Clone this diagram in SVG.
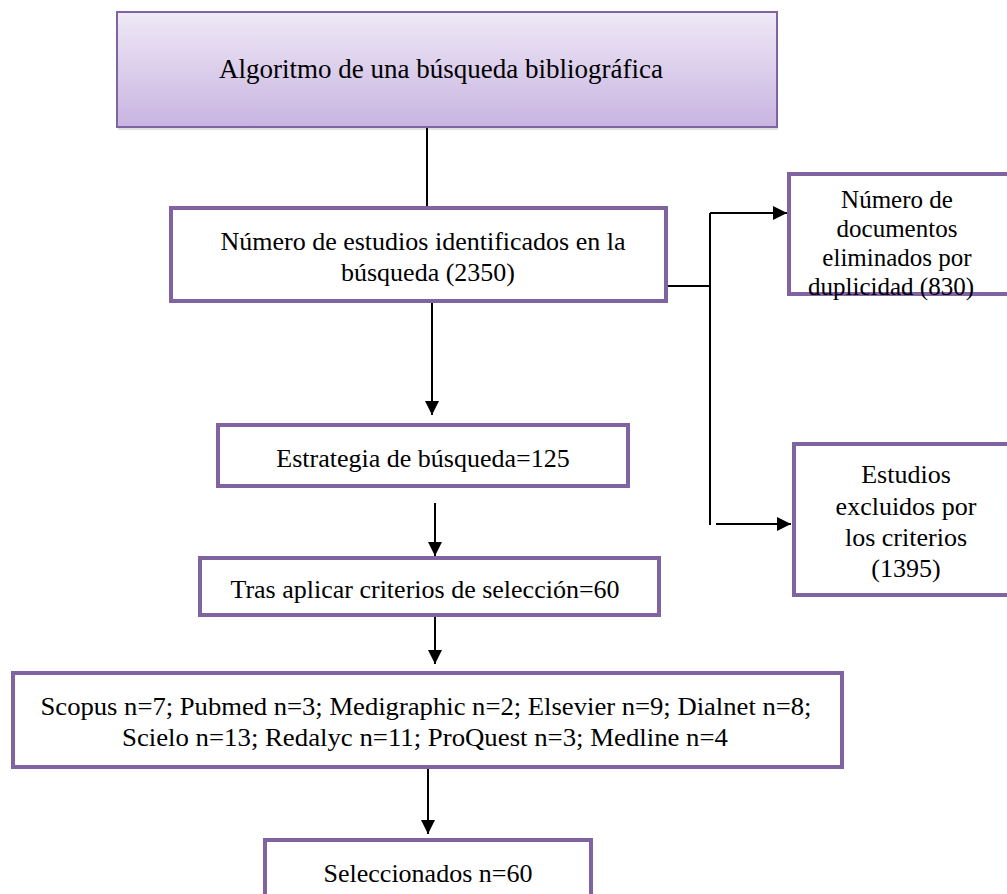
<svg xmlns="http://www.w3.org/2000/svg" width="1007" height="894" viewBox="0 0 1007 894">
<defs>
<linearGradient id="g1" x1="0" y1="0" x2="0" y2="1">
<stop offset="0" stop-color="#efe9f6"/>
<stop offset="1" stop-color="#c8b4e1"/>
</linearGradient>
<marker id="av" markerWidth="14" markerHeight="14" refX="14" refY="7" orient="auto" markerUnits="userSpaceOnUse">
<path d="M0,0 L14,7 L0,14 Z" fill="#000"/>
</marker>
</defs>
<style>
.box{fill:#fff;stroke:#8064a2;stroke-width:4}
.t{fill:#000;text-anchor:middle;font-family:'Liberation Serif',serif;font-size:26px}
.c{stroke:#000;stroke-width:2;fill:none}
</style>
<rect width="1007" height="894" fill="#fff"/>
<g id="connectors">
<line class="c" x1="427" y1="127" x2="427" y2="207"/>
<line class="c" x1="667" y1="286" x2="710" y2="286"/>
<line class="c" x1="710" y1="213" x2="710" y2="525"/>
<line class="c" x1="710" y1="213" x2="787" y2="213" marker-end="url(#av)"/>
<line class="c" x1="716" y1="524" x2="791" y2="524" marker-end="url(#av)"/>
<line class="c" x1="432" y1="302" x2="432" y2="415" marker-end="url(#av)"/>
<line class="c" x1="435" y1="503" x2="435" y2="556" marker-end="url(#av)"/>
<line class="c" x1="435" y1="616" x2="435" y2="664" marker-end="url(#av)"/>
<line class="c" x1="428" y1="769" x2="428" y2="834" marker-end="url(#av)"/>
</g>
<g id="n1">
<rect x="118" y="15" width="660" height="115" fill="#000" opacity="0.12"/>
<rect x="117" y="13" width="660" height="115" fill="#000" opacity="0.12"/>
<rect x="117" y="12" width="660" height="115" fill="url(#g1)" stroke="#8064a2" stroke-width="2"/>
<text class="t" style="font-size:27px" x="441" y="78">Algoritmo de una búsqueda bibliográfica</text>
</g>
<g id="n2">
<rect class="box" x="171" y="208" width="495" height="93"/>
<text class="t" x="423" y="250">Número de estudios identificados en la</text>
<text class="t" x="428" y="281">búsqueda (2350)</text>
</g>
<g id="n3">
<rect class="box" x="789" y="174" width="225" height="120"/>
<text class="t" style="font-size:25px" x="897" y="208">Número de</text>
<text class="t" style="font-size:25px" x="897" y="237">documentos</text>
<text class="t" style="font-size:25px" x="897" y="266">eliminados por</text>
<text class="t" style="font-size:25px" x="891" y="295">duplicidad (830)</text>
</g>
<g id="n4">
<rect class="box" x="794" y="444" width="220" height="151"/>
<text class="t" x="906" y="483">Estudios</text>
<text class="t" x="906" y="515">excluidos por</text>
<text class="t" x="906" y="546">los criterios</text>
<text class="t" x="906" y="577">(1395)</text>
</g>
<g id="n5">
<rect class="box" x="218" y="425" width="410" height="61"/>
<text class="t" x="423" y="467">Estrategia de búsqueda=125</text>
</g>
<g id="n6">
<rect class="box" x="200" y="558" width="459" height="57"/>
<text class="t" x="425" y="598">Tras aplicar criterios de selección=60</text>
</g>
<g id="n7">
<rect class="box" x="13" y="673" width="829" height="94"/>
<text class="t" x="426" y="715" textLength="771" lengthAdjust="spacingAndGlyphs">Scopus n=7; Pubmed n=3; Medigraphic n=2; Elsevier n=9; Dialnet n=8;</text>
<text class="t" x="425" y="746" textLength="606" lengthAdjust="spacingAndGlyphs">Scielo n=13; Redalyc n=11; ProQuest n=3; Medline n=4</text>
</g>
<g id="n8">
<rect class="box" x="265" y="840" width="326" height="60"/>
<text class="t" x="428" y="882">Seleccionados n=60</text>
</g>
</svg>
